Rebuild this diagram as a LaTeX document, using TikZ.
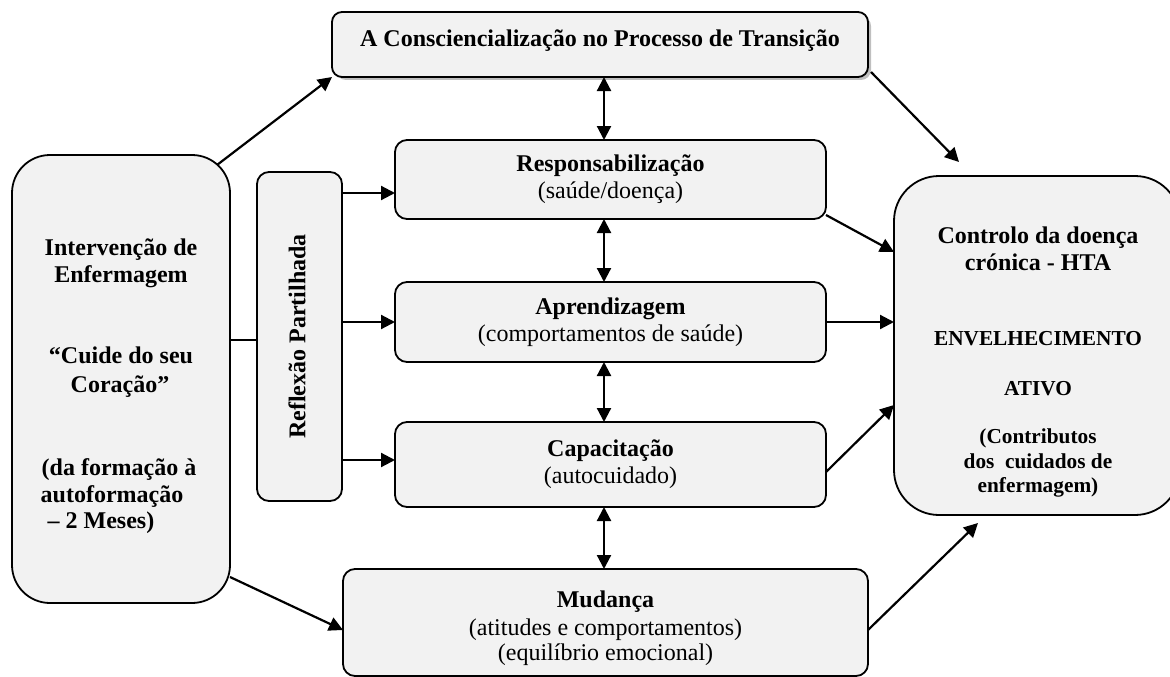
\documentclass[tikz,border=0pt]{standalone}
\usepackage{fontspec}
\setmainfont{Liberation Serif}
\usetikzlibrary{arrows.meta}
\definecolor{boxfill}{HTML}{F2F2F2}
\definecolor{shadowgray}{HTML}{BFBFBF}
\begin{document}
\begin{tikzpicture}[x=1pt,y=-1pt,
  box/.style={draw=black, line width=1.8pt, fill=boxfill, inner sep=0pt, outer sep=0pt,
    rounded corners=12pt, align=center, font=\fontsize{24pt}{27pt}\selectfont},
  big/.style={font=\fontsize{24pt}{27pt}\selectfont\bfseries, anchor=base, inner sep=0pt},
  small/.style={font=\fontsize{21.3pt}{24pt}\selectfont\bfseries, anchor=base, inner sep=0pt},
  reg/.style={font=\fontsize{24pt}{27pt}\selectfont, anchor=base, inner sep=0pt},
  link/.style={line width=2.2pt},
  arr/.style={line width=2.2pt, -{Triangle[length=14pt,width=14pt]}},
  darr/.style={line width=2.2pt, {Triangle[length=14pt,width=14pt]}-{Triangle[length=14pt,width=14pt]}}]
\useasboundingbox (0,0) rectangle (1170,677);

% top box with its shadow
\fill[shadowgray, rounded corners=10pt] (336,16) rectangle (871,80);
\node[box, rounded corners=10pt, minimum width=536pt, minimum height=65pt] (top) at (600,44.5) {};
\node[big] (top-t) at (600,47) {A Consciencialização no Processo de Transição};

% left: the intervention
\node[box, rounded corners=38pt, minimum width=218pt, minimum height=448pt] (intv) at (121,379) {};
\node[big] (intv-1) at (121,255) {Intervenção de};
\node[big] (intv-2) at (121,282) {Enfermagem};
\node[big] (intv-3) at (121,363) {“Cuide do seu};
\node[big] (intv-4) at (120,392) {Coração”};
\node[big] (intv-5) at (119,475) {(da formação à};
\node[big] (intv-6) at (112,502) {autoformação};
\node[big] (intv-7) at (101,528) {– 2 Meses)};

% shared reflection
\node[box, minimum width=85pt, minimum height=329pt] (refl) at (299.5,336.5) {};
\node[big, anchor=center, rotate=90] (refl-t) at (297,336.5) {Reflexão Partilhada};

% central stages
\node[box, minimum width=431pt, minimum height=79pt] (resp) at (610.5,179.5)
  {\textbf{Responsabilização}\\(saúde/doença)};
\node[box, minimum width=431pt, minimum height=80pt] (apr) at (610.5,322)
  {\textbf{Aprendizagem}\\(comportamentos de saúde)};
\node[box, minimum width=431pt, minimum height=85pt] (cap) at (610.5,464.5)
  {\textbf{Capacitação}\\(autocuidado)};

% change
\node[box, minimum width=525pt, minimum height=107pt] (mud) at (605.5,622.5) {};
\node[big] (mud-1) at (605.5,607) {Mudança};
\node[reg] (mud-2) at (605.5,635) {(atitudes e comportamentos)};
\node[reg] (mud-3) at (605.5,660) {(equilíbrio emocional)};

% right: outcome
\node[box, rounded corners=45pt, minimum width=286pt, minimum height=339pt] (res) at (1037,345.5) {};
\node[big] (res-1) at (1038,243) {Controlo da doença};
\node[big] (res-2) at (1038,270) {crónica - HTA};
\node[small] (res-3) at (1038,345) {ENVELHECIMENTO};
\node[small] (res-4) at (1038,395) {ATIVO};
\node[small] (res-5) at (1038,443) {(Contributos};
\node[small] (res-6) at (1038,468) {dos\ \ cuidados de};
\node[small] (res-7) at (1038,492) {enfermagem)};

% connectors
\coordinate (vx) at (604,0);
\coordinate (r1) at ([yshift=-13.5pt]resp.west);
\coordinate (r3) at ([yshift=4.5pt]cap.west);

\draw[link] ([yshift=39pt]intv.east) -- ([yshift=-3.5pt]refl.west);
\draw[arr] (r1 -| refl.east) -- (r1);
\draw[arr] (apr.west -| refl.east) -- (apr.west);
\draw[arr] (r3 -| refl.east) -- (r3);

\draw[arr] ([xshift=-13pt,yshift=-10pt]intv.north east) -- (top.south west);
\draw[arr] ([yshift=26pt]intv.south east) -- ([yshift=-7.5pt]mud.west);

\draw[darr] (top.south -| vx) -- (resp.north -| vx);
\draw[darr] (resp.south -| vx) -- (apr.north -| vx);
\draw[darr] (apr.south -| vx) -- (cap.north -| vx);
\draw[darr] (cap.south -| vx) -- (mud.north -| vx);

\draw[arr] ([xshift=3pt,yshift=5pt]top.south east) -- ([xshift=65pt,yshift=14pt]res.north west);
\draw[arr] ([yshift=4pt]resp.south east) -- ([yshift=93.5pt]res.west);
\draw[arr] (apr.east) -- (res.west |- apr.east);
\draw[arr] ([yshift=-7.5pt]cap.east) -- ([yshift=-59.5pt]res.west);
\draw[arr] ([yshift=-7.5pt]mud.east) -- ([xshift=84pt,yshift=-8pt]res.south west);
\end{tikzpicture}
\end{document}
